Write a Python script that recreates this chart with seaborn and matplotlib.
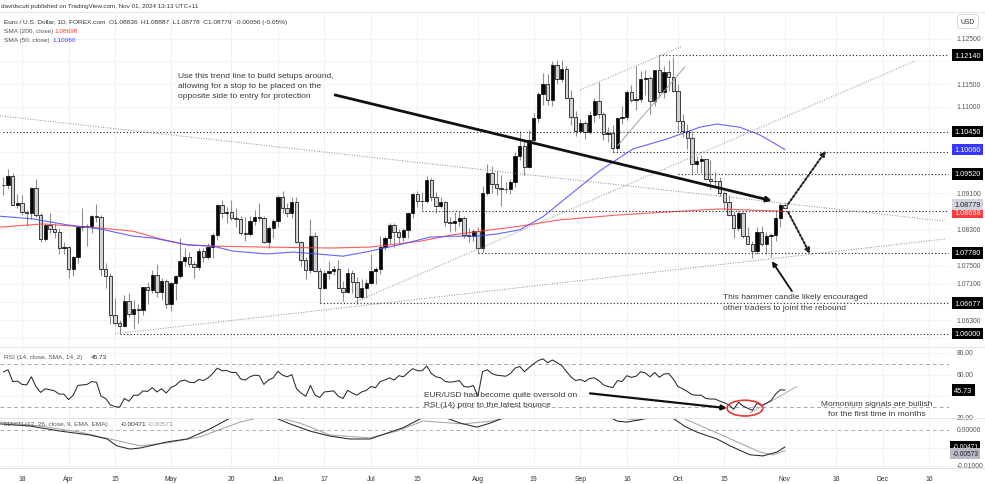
import numpy as np
import pandas as pd
import matplotlib
matplotlib.use("Agg")
import matplotlib.pyplot as plt
import matplotlib.transforms as mtransforms
from matplotlib.patches import Ellipse
from matplotlib.lines import Line2D
import seaborn as sns

sns.set_theme(style="white")
plt.rcParams["font.family"] = ["Liberation Sans", "DejaVu Sans"]

# ---------------- data ----------------
first_day = "2024-03-12"
last_day = "2024-11-01"
ref_day = "2024-03-18"          # bar position 0

opens = [1.0928,1.0927,1.0948,1.0884,1.0889,1.0868,1.0865,1.0922,1.0862,1.0808,
         1.0839,1.0830,1.0825,1.0790,1.0792,1.0742,1.0769,1.0836,1.0837,1.0838,
         1.0859,1.0857,1.0743,1.0727,1.0642,1.0624,1.0617,1.0672,1.0643,1.0655,
         1.0653,1.0703,1.0697,1.0730,1.0692,1.0716,1.0665,1.0713,1.0727,1.0760,
         1.0770,1.0753,1.0748,1.0783,1.0770,1.0791,1.0818,1.0883,1.0866,1.0869,
         1.0855,1.0853,1.0822,1.0820,1.0848,1.0858,1.0856,1.0802,1.0833,1.0848,
         1.0902,1.0878,1.0867,1.0891,1.0802,1.0763,1.0741,1.0816,1.0739,1.0702,
         1.0733,1.0739,1.0743,1.0701,1.0693,1.0735,1.0714,1.0681,1.0701,1.0712,
         1.0739,1.0742,1.0791,1.0810,1.0840,1.0825,1.0814,1.0828,1.0867,1.0908,
         1.0892,1.0893,1.0938,1.0901,1.0882,1.0891,1.0847,1.0843,1.0848,1.0856,
         1.0818,1.0816,1.0826,1.0790,1.0911,1.0954,1.0930,1.0922,1.0920,1.0918,
         1.0934,1.0992,1.1013,1.0968,1.1027,1.1075,1.1128,1.1150,1.1114,1.1192,
         1.1161,1.1184,1.1120,1.1077,1.1046,1.1065,1.1045,1.1082,1.1112,1.1085,
         1.1039,1.1042,1.1010,1.1075,1.1077,1.1132,1.1115,1.1118,1.1162,1.1163,
         1.1113,1.1180,1.1133,1.1177,1.1166,1.1135,1.1068,1.1046,1.1031,1.0975,
         1.0980,1.0984,1.0942,1.0936,1.0937,1.0911,1.0890,1.0862,1.0833,1.0866,
         1.0816,1.0798,1.0782,1.0825,1.0797,1.0815,1.0817,1.0855,1.08836]
highs = [1.0946,1.0963,1.0955,1.0907,1.0905,1.0873,1.0924,1.0942,1.0866,1.0842,
         1.0865,1.0845,1.0833,1.0803,1.0794,1.0771,1.0837,1.0876,1.0842,1.0861,
         1.0885,1.0861,1.0757,1.0734,1.0680,1.0630,1.0685,1.0690,1.0675,1.0665,
         1.0704,1.0714,1.0740,1.0754,1.0724,1.0720,1.0715,1.0730,1.0812,1.0790,
         1.0780,1.0760,1.0790,1.0790,1.0800,1.0823,1.0886,1.0895,1.0880,1.0895,
         1.0877,1.0860,1.0858,1.0860,1.0873,1.0888,1.0860,1.0838,1.0852,1.0905,
         1.0915,1.0887,1.0902,1.0901,1.0805,1.0770,1.0852,1.0825,1.0745,1.0740,
         1.0760,1.0750,1.0762,1.0716,1.0744,1.0740,1.0725,1.0720,1.0720,1.0776,
         1.0748,1.0816,1.0815,1.0845,1.0845,1.0830,1.0833,1.0869,1.0910,1.0914,
         1.0912,1.0948,1.0943,1.0912,1.0902,1.0892,1.0858,1.0868,1.0871,1.0860,
         1.0832,1.0830,1.0836,1.0926,1.0975,1.0970,1.0960,1.0950,1.0935,1.0940,
         1.1000,1.1047,1.1030,1.1048,1.1086,1.1133,1.1174,1.1172,1.1201,1.1202,
         1.1202,1.1190,1.1136,1.1090,1.1073,1.1068,1.1091,1.1120,1.1155,1.1089,
         1.1055,1.1059,1.1075,1.1101,1.1137,1.1148,1.1189,1.1179,1.1181,1.1168,
         1.1181,1.1214,1.1190,1.1202,1.1209,1.1150,1.1083,1.1063,1.1046,1.0992,
         1.0994,1.0986,1.0982,1.0956,1.0945,1.0914,1.0905,1.0870,1.0870,1.0868,
         1.0836,1.0805,1.0836,1.0838,1.0825,1.0822,1.0870,1.0889,1.08887]
lows = [1.0906,1.0920,1.0883,1.0878,1.0861,1.0837,1.0853,1.0858,1.0802,1.0805,
        1.0822,1.0812,1.0776,1.0775,1.0724,1.0728,1.0756,1.0826,1.0794,1.0822,
        1.0846,1.0728,1.0700,1.0622,1.0620,1.0601,1.0615,1.0636,1.0610,1.0623,
        1.0641,1.0666,1.0690,1.0682,1.0675,1.0657,1.0650,1.0675,1.0722,1.0750,
        1.0748,1.0724,1.0740,1.0758,1.0765,1.0768,1.0806,1.0855,1.0845,1.0850,
        1.0835,1.0818,1.0805,1.0815,1.0840,1.0848,1.0800,1.0788,1.0810,1.0836,
        1.0865,1.0857,1.0856,1.0800,1.0750,1.0720,1.0734,1.0736,1.0668,1.0698,
        1.0720,1.0730,1.0700,1.0672,1.0690,1.0690,1.0666,1.0677,1.0680,1.0710,
        1.0709,1.0732,1.0785,1.0797,1.0791,1.0800,1.0805,1.0810,1.0855,1.0880,
        1.0872,1.0888,1.0892,1.0867,1.0876,1.0838,1.0825,1.0826,1.0838,1.0811,
        1.0803,1.0805,1.0778,1.0780,1.0906,1.0911,1.0905,1.0881,1.0910,1.0909,
        1.0924,1.0983,1.0949,1.0965,1.1018,1.1067,1.1105,1.1105,1.1101,1.1150,
        1.1155,1.1117,1.1060,1.1036,1.1043,1.1030,1.1039,1.1067,1.1076,1.1026,
        1.1023,1.1001,1.1002,1.1063,1.1070,1.1110,1.1093,1.1110,1.1126,1.1083,
        1.1102,1.1122,1.1120,1.1135,1.1133,1.1045,1.1033,1.1006,1.0951,1.0954,
        1.0955,1.0940,1.0918,1.0925,1.0904,1.0872,1.0859,1.0811,1.0826,1.0811,
        1.0797,1.0768,1.0775,1.0794,1.0776,1.0770,1.0805,1.0835,1.08778]
closes = [1.0927,1.0948,1.0884,1.0889,1.0868,1.0865,1.0922,1.0862,1.0808,1.0839,
          1.0830,1.0825,1.0790,1.0792,1.0742,1.0769,1.0836,1.0837,1.0838,1.0859,
          1.0857,1.0743,1.0727,1.0642,1.0624,1.0617,1.0672,1.0643,1.0655,1.0653,
          1.0703,1.0697,1.0730,1.0692,1.0716,1.0665,1.0713,1.0727,1.0760,1.0770,
          1.0753,1.0748,1.0783,1.0770,1.0791,1.0818,1.0883,1.0866,1.0869,1.0855,
          1.0853,1.0822,1.0820,1.0848,1.0858,1.0856,1.0802,1.0833,1.0848,1.0902,
          1.0878,1.0867,1.0891,1.0802,1.0763,1.0741,1.0816,1.0739,1.0702,1.0733,
          1.0739,1.0743,1.0701,1.0693,1.0735,1.0714,1.0681,1.0701,1.0712,1.0739,
          1.0742,1.0791,1.0810,1.0840,1.0825,1.0814,1.0828,1.0867,1.0908,1.0892,
          1.0893,1.0938,1.0901,1.0882,1.0891,1.0847,1.0843,1.0848,1.0856,1.0818,
          1.0816,1.0826,1.0790,1.0911,1.0954,1.0930,1.0922,1.0920,1.0918,1.0934,
          1.0992,1.1013,1.0968,1.1027,1.1075,1.1128,1.1150,1.1114,1.1192,1.1161,
          1.1184,1.1120,1.1077,1.1046,1.1065,1.1045,1.1082,1.1112,1.1085,1.1039,
          1.1042,1.1010,1.1075,1.1077,1.1132,1.1115,1.1118,1.1162,1.1163,1.1113,
          1.1180,1.1133,1.1177,1.1166,1.1135,1.1068,1.1046,1.1031,1.0975,1.0980,
          1.0984,1.0942,1.0936,1.0937,1.0911,1.0890,1.0862,1.0833,1.0866,1.0816,
          1.0798,1.0782,1.0825,1.0797,1.0815,1.0817,1.0855,1.0884,1.08779]

rsi_values = [62.5,64.5,53.6,54.0,51.0,50.5,58.0,49.0,43.6,47.0,
              46.0,45.0,42.0,42.0,37.0,41.0,50.0,50.5,51.0,53.6,
              53.0,40.0,38.0,32.0,30.5,30.0,38.0,35.5,41.0,41.0,
              45.0,44.5,48.0,44.0,47.0,43.0,48.0,50.0,54.0,55.0,
              53.0,52.5,55.5,54.5,57.0,61.0,66.0,63.5,63.8,62.0,
              62.0,56.0,55.0,58.0,59.5,59.0,51.0,55.0,57.0,63.0,
              59.5,58.0,60.0,47.0,43.0,40.0,50.0,41.0,39.0,44.0,
              44.5,45.0,40.0,38.0,45.5,43.0,41.0,44.0,45.5,49.0,
              48.0,53.6,55.0,57.0,55.0,59.0,58.0,62.0,65.5,63.6,
              63.5,68.0,61.0,58.0,57.0,53.6,53.0,53.6,54.5,49.0,
              48.5,50.0,40.0,62.7,64.5,61.0,59.5,59.0,58.5,61.0,
              66.0,67.5,62.7,66.5,70.0,73.0,74.5,71.0,73.5,71.0,
              68.5,63.0,58.0,54.5,55.5,53.6,56.4,57.0,54.5,50.5,
              49.0,48.0,54.5,53.6,59.0,57.5,58.5,62.7,61.5,58.0,
              62.0,57.5,60.5,61.0,56.0,49.0,47.0,44.5,41.5,41.0,
              41.0,38.0,37.5,37.5,35.5,34.0,32.0,28.0,34.5,31.0,
              29.0,27.0,33.6,31.5,33.6,36.0,42.0,46.0,45.73]

sma200_pos = [-4.7, 4.5, 16.8, 23.9, 29.7, 35.5, 41.1, 52.7, 66.2, 74.8, 85.6,
              92.6, 98.5, 107.0, 115.6, 128.5, 141.4, 150.0, 164.0]
sma200_val = [1.0835, 1.0842, 1.0833, 1.0826, 1.0809, 1.0796, 1.0793, 1.0791,
              1.0789, 1.0791, 1.0804, 1.0818, 1.0826, 1.0837, 1.0851, 1.0862,
              1.0870, 1.0875, 1.08698]
sma50_pos = [-4.7, 2.4, 9.7, 16.8, 23.9, 28.2, 35.5, 41.1, 45.4, 52.7, 58.3, 63.4,
             69.0, 74.8, 81.9, 87.7, 92.6, 97.8, 102.1, 107.0, 112.0, 116.7,
             124.2, 131.3, 138.6, 145.7, 149.4, 154.3, 158.6, 164.0]
sma50_val = [1.0859, 1.0853, 1.0840, 1.0831, 1.0815, 1.0811, 1.0796, 1.0793,
             1.0782, 1.0776, 1.0780, 1.0776, 1.0771, 1.0782, 1.0798, 1.0813,
             1.0815, 1.0815, 1.0820, 1.0829, 1.0858, 1.0897, 1.0959, 1.1007,
             1.1029, 1.1055, 1.1062, 1.1055, 1.1038, 1.1006]

macd_pos = [-4.7, 1.7, 8.2, 14.6, 18.3, 20.4, 23.2, 25.4, 28.2, 31.2, 35.5, 40.4,
            44.7, 49.0, 53.3, 57.6, 61.9, 66.2, 70.5, 74.8, 79.1, 81.9, 85.6,
            89.9, 94.2, 97.8, 100.6, 103.4, 109.2, 117.8, 124.2, 127.9, 130.0,
            132.8, 136.0, 139.9, 142.5, 145.1, 149.4, 152.2, 156.5, 159.3, 162.3, 164.0]
macd_val = [0.0017, 0.0011, -0.0003, -0.0014, -0.0025, -0.0044, -0.0053, -0.0050,
            -0.0042, -0.0033, -0.0025, 0.0003, 0.0033, 0.0045, 0.0040, 0.0017,
            -0.0003, -0.0017, -0.0025, -0.0025, -0.0006, 0.0006, 0.0031, 0.0040,
            0.0019, 0.0008, 0.0019, 0.0033, 0.0060, 0.0075, 0.0050, 0.0025,
            0.0022, 0.0028, 0.0040, 0.0033, 0.0010, -0.0006, -0.0025, -0.0044,
            -0.0069, -0.0072, -0.0061, -0.00471]
signal_pos = [-4.7, 3.9, 12.5, 18.9, 25.4, 31.2, 38.3, 46.9, 51.2, 55.5, 59.8,
              66.2, 74.8, 80.6, 86.2, 94.8, 101.2, 107.0, 120.0, 128.5, 131.8,
              136.0, 142.1, 148.5, 153.7, 158.6, 161.4, 164.0]
signal_val = [0.0022, 0.0011, -0.0006, -0.0025, -0.0044, -0.0036, -0.0019, 0.0022,
              0.0035, 0.0033, 0.0019, -0.0014, -0.0022, -0.0003, 0.0025, 0.0017,
              0.0025, 0.0045, 0.0065, 0.0035, 0.0028, 0.0033, 0.0033, -0.0003,
              -0.0033, -0.0061, -0.0069, -0.00573]

tick_dates = ["2024-03-18", "2024-04-01", "2024-04-15", "2024-05-01", "2024-05-20",
              "2024-06-03", "2024-06-17", "2024-07-01", "2024-07-15", "2024-08-01",
              "2024-08-19", "2024-09-02", "2024-09-16", "2024-10-01", "2024-10-15",
              "2024-11-01", "2024-11-18", "2024-12-02", "2024-12-16"]
tick_labels = ["18", "Apr", "15", "May", "20", "Jun", "17", "Jul", "15", "Aug",
               "19", "Sep", "16", "Oct", "15", "Nov", "18", "Dec", "16"]

price_grid = [1.125, 1.120, 1.115, 1.110, 1.105, 1.100, 1.095, 1.091, 1.087,
              1.083, 1.079, 1.075, 1.071, 1.067, 1.063, 1.059]
price_tick_labels = [1.125, 1.115, 1.110, 1.091, 1.083, 1.075, 1.071, 1.063]
level_prices = [1.12140, 1.10450, 1.10010, 1.09520, 1.08700, 1.07780, 1.06677, 1.06000]
level_starts = ["2024-09-25", "2024-03-12", "2024-09-11", "2024-10-01", "2024-07-16",
                "2024-08-01", "2024-06-14", "2024-04-16"]
level_labels = ["1.12140", "1.10450", None, "1.09520", None, "1.07780", "1.06677", "1.06000"]

# ---------------- layout ----------------
W, H = 985, 485
fig = plt.figure(figsize=(W / 100, H / 100), dpi=100, facecolor="white")


def frame(x0, y0, x1, y1):
    return [x0 / W, 1 - y1 / H, (x1 - x0) / W, (y1 - y0) / H]


ax_p = fig.add_axes(frame(0, 13, 949, 348))
ax_r = fig.add_axes(frame(0, 348, 949, 419), sharex=ax_p)
ax_m = fig.add_axes(frame(0, 419, 949, 469), sharex=ax_p)

all_days = pd.bdate_range(first_day, "2024-12-31")
pos = pd.Series(np.arange(len(all_days)) - all_days.get_loc(pd.Timestamp(ref_day)), index=all_days)
days = pd.bdate_range(first_day, last_day)
xb = pos[days].values.astype(float)

ax_p.set_xlim(-4.73, 199.27)
ax_p.set_ylim(1.05710, 1.13087)
ax_r.set_ylim(20.91, 85.45)
ax_m.set_ylim(-0.010556, 0.003333)

for ax in (ax_p, ax_r, ax_m):
    ax.set_facecolor("white")
    for s in ax.spines.values():
        s.set_visible(False)
    ax.set_xticks(pos[pd.to_datetime(tick_dates)].values)
    ax.grid(True, axis="x", color="#f0f1f4", lw=0.7)
    ax.tick_params(length=0, labelleft=False, labelright=False)
ax_p.tick_params(labelbottom=False)
ax_r.tick_params(labelbottom=False)
ax_m.set_xticklabels(tick_labels, fontsize=4.9, color="#333333")
ax_m.tick_params(axis="x", pad=5)

ax_p.set_yticks(price_grid)
ax_p.grid(True, axis="y", color="#f3f4f6", lw=0.7)
ax_r.set_yticks([80, 60, 40, 20])
ax_r.grid(True, axis="y", color="#f3f4f6", lw=0.7)
ax_m.set_yticks([-0.005, -0.01])
ax_m.grid(True, axis="y", color="#f0f1f4", lw=0.7)

# ---------------- candles ----------------
o = np.array(opens); h = np.array(highs); l = np.array(lows); c = np.array(closes)
up = c >= o
ax_p.vlines(xb, l, h, color="#8f8f8f", lw=0.8, zorder=2)
ax_p.bar(xb, np.maximum(np.abs(c - o), 0.00004), bottom=np.minimum(o, c), width=0.72,
         color=np.where(up, "#050505", "#cfd2d8"), edgecolor="#111111", linewidth=0.55, zorder=3)

sns.lineplot(x=sma200_pos, y=sma200_val, ax=ax_p, color="#ff4040", lw=0.8, alpha=0.85, zorder=4)
sns.lineplot(x=sma50_pos, y=sma50_val, ax=ax_p, color="#4a4aff", lw=0.8, alpha=0.85, zorder=4)

# horizontal levels
for lp, ls in zip(level_prices, level_starts):
    ax_p.plot([pos[pd.Timestamp(ls)], 199.27], [lp, lp], color="#222222", lw=0.8,
              ls=(0, (1, 2)), zorder=5)

# trend lines (drawings)
dotted = dict(color="#8a8a8a", lw=0.7, ls=(0, (1, 1.6)), zorder=5)
ax_p.plot([-4.73, 198.4], [1.1080, 1.0848], **dotted)
ax_p.plot([20.0, 198.4], [1.0600, 1.0809], **dotted)
ax_p.plot([71.6, 192.0], [1.0670, 1.1201], **dotted)
ax_p.plot([120.0, 142.0], [1.1137, 1.1234], **dotted)
ax_p.plot([128.0, 142.5], [1.1014, 1.1188], color="#a0a0a0", lw=0.7, zorder=5)

ax_p.annotate("", xy=(161.2, 1.0893), xytext=(67.3, 1.1126),
              arrowprops=dict(arrowstyle="-|>", lw=2.0, color="#111111", mutation_scale=7,
                              shrinkA=0, shrinkB=0), zorder=7)
for start, end in [((164.7, 1.0886), (172.8, 1.1003)), ((164.7, 1.0868), (169.4, 1.0776))]:
    ax_p.annotate("", xy=end, xytext=start,
                  arrowprops=dict(arrowstyle="-|>", lw=1.5, ls=(0, (1, 1)), color="#222222",
                                  mutation_scale=7, shrinkA=0, shrinkB=0), zorder=7)
ax_p.annotate("", xy=(161.2, 1.0760), xytext=(165.5, 1.0694),
              arrowprops=dict(arrowstyle="-|>", lw=1.3, color="#111111", mutation_scale=7,
                              shrinkA=0, shrinkB=0), zorder=7)

ann = dict(fontsize=6.0, color="#3a3a3a", va="center", zorder=8, linespacing=1.65)
ax_p.text(33.5, 1.11469, "Use this trend line to build setups around,\n"
          "allowing for a stop to be placed on the\nopposite side to entry for protection",
          ha="left", **ann)
ax_p.text(150.7, 1.06701, "This hammer candle likely encouraged\nother traders to joint the rebound",
          ha="left", **ann)

# ---------------- RSI ----------------
sns.lineplot(x=xb, y=rsi_values, ax=ax_r, color="#2a2a2a", lw=0.75, zorder=4)
for lvl in (70, 30):
    ax_r.axhline(lvl, color="#a8a8a8", lw=0.7, ls=(0, (4, 3)), zorder=2)
ax_r.plot([156.5, 166.6], [24.5, 49.1], color="#b0b0b0", lw=0.7, zorder=3)
ax_r.add_patch(Ellipse((155.4, 29.1), 7.7, 14.5, fill=False, ec="#e53935", lw=1.2, zorder=6))
ax_r.annotate("", xy=(151.5, 29.1), xytext=(122.1, 42.7),
              arrowprops=dict(arrowstyle="-|>", lw=1.6, color="#111111", mutation_scale=7,
                              shrinkA=0, shrinkB=0), zorder=7)
ax_r.text(86.4, 37.2, "EUR/USD had become quite oversold on\nRSI (14) prior to the latest bounce",
          ha="left", **ann)
ax_r.text(183.8, 28.6, "Momonium signals are bullish\nfor the first time in months",
          ha="center", **ann)

# ---------------- MACD ----------------
sns.lineplot(x=signal_pos, y=signal_val, ax=ax_m, color="#a5a5a5", lw=0.75, zorder=3)
sns.lineplot(x=macd_pos, y=macd_val, ax=ax_m, color="#2a2a2a", lw=0.75, zorder=4)
ax_m.axhline(0, color="#b0b0b0", lw=0.7, ls=(0, (4, 3)), zorder=2)
for ax in (ax_p, ax_r, ax_m):
    ax.set_xlabel(""); ax.set_ylabel("")
    if ax.get_legend():
        ax.get_legend().remove()


# ---------------- scale labels ----------------
def scale_label(ax, value, text, fc=None, tc="#555555", dy=0, fs=4.9, z=6, bfs=5.2, bx=1.0055):
    tr = mtransforms.blended_transform_factory(ax.transAxes, ax.transData)
    tr = tr + mtransforms.ScaledTranslation(0, -dy / 100, fig.dpi_scale_trans)
    kw = {}
    x = 1.0080
    if fc:
        kw["bbox"] = dict(boxstyle="square,pad=0.3", fc=fc, ec="none")
        x = bx
        fs = bfs
    ax.text(x, value, text, transform=tr, ha="left", va="center", fontsize=fs,
            color=tc, clip_on=False, zorder=z, **kw)


for t in price_tick_labels:
    scale_label(ax_p, t, f"{t:.5f}")
for lp, lab in zip(level_prices, level_labels):
    if lab:
        scale_label(ax_p, lp, lab, fc="#000000", tc="white", z=8)
scale_label(ax_p, 1.10060, "1.10060", fc="#3535ff", tc="white", z=8)
scale_label(ax_p, 1.08698, "1.08698", fc="#ff3b3b", tc="white", z=8, dy=1)
scale_label(ax_p, 1.08779, "1.08779", fc="#d1d4dc", tc="#222222", z=9, dy=-3)

for v in (80, 60, 20):
    scale_label(ax_r, v, f"{v:.2f}")
scale_label(ax_r, 45.73, "45.73", fc="#000000", tc="white", z=8)

for v in (0.0, -0.01):
    scale_label(ax_m, v, f"{v:.5f}")
scale_label(ax_m, -0.00471, "-0.00471", fc="#000000", tc="white", z=8, bfs=4.8, bx=1.0035)
scale_label(ax_m, -0.00573, "-0.00573", fc="#b8bbc4", tc="#222222", z=8, dy=3, bfs=4.8, bx=1.0035)

fig.text(968 / W, 1 - 22.5 / H, "USD", fontsize=4.9, color="#333333", ha="center", va="center",
         bbox=dict(boxstyle="round,pad=0.5", fc="white", ec="#d0d3da", lw=0.6))


# ---------------- header / legends ----------------
def ftext(xp, yp, s, **kw):
    base = dict(fontsize=4.65, color="#333333", va="center", ha="left")
    base.update(kw)
    fig.text(xp / W, 1 - yp / H, s, **base)


ftext(1, 6.7, "davidscutt published on TradingView.com, Nov 01, 2024 13:13 UTC+11", fontsize=4.5)
fig.add_artist(Line2D([0, 1], [1 - 13 / H] * 2, color="#e3e5ea", lw=0.7, transform=fig.transFigure))
ftext(4, 22.7, "Euro / U.S. Dollar, 1D, FOREX.com  O1.08836  H1.08887  L1.08778  C1.08779  -0.00056 (-0.05%)")
ftext(4, 31.7, "SMA (200, close)", color="#555555")
ftext(55, 31.7, "1.08698", color="#ff3b3b")
ftext(4, 40.7, "SMA (50, close)", color="#555555")
ftext(53, 40.7, "1.10060", color="#3535ff")
ftext(4, 357.5, "RSI (14, close, SMA, 14, 2)", color="#555555")
ftext(91, 357.5, "45.73", color="#333333")
ftext(4, 425, "MACD (12, 26, close, 9, EMA, EMA)", color="#555555")
ftext(121, 425, "-0.00471", color="#333333")
ftext(148, 425, "-0.00573", color="#9a9a9a")

for yp in (348, 419, 469):
    fig.add_artist(Line2D([0, 1], [1 - yp / H] * 2, color="#e3e5ea", lw=0.7, transform=fig.transFigure))

fig.savefig("out.png", dpi=100, facecolor="white")
